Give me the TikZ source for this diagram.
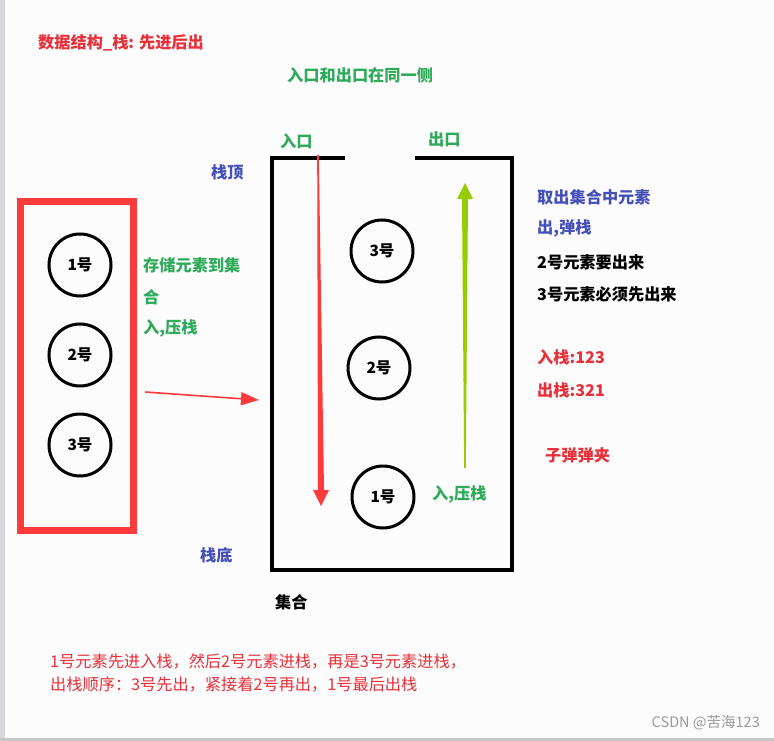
\documentclass[tikz,border=0pt]{standalone}
\usepackage{fontspec}
\setmainfont{Noto Sans CJK SC}
\usetikzlibrary{arrows.meta,calc}
\definecolor{tred}{HTML}{E8303A}
\definecolor{boxred}{HTML}{FF3A3A}
\definecolor{tgreen}{HTML}{2EAA5A}
\definecolor{tblue}{HTML}{4450B8}
\definecolor{agreen}{HTML}{99CC00}
\definecolor{wm}{HTML}{9A9A9A}
\tikzset{
  lbl/.style={anchor=west, inner sep=0pt, font=\fontsize{16.2}{17}\selectfont\bfseries},
  note/.style={anchor=west, inner sep=0pt, font=\fontsize{16.2}{17}\selectfont},
  ball/.style={circle, draw=black, line width=3pt, minimum size=62pt, inner sep=0pt, font=\fontsize{15.5}{15.5}\selectfont\bfseries},
  wall/.style={line width=4pt, black},
}
\begin{document}
\begin{tikzpicture}[x=1pt,y=-1pt]
\useasboundingbox (0,0) rectangle (774,741);
\fill[white!98!gray] (0,0) rectangle (774,741);
\fill[blue!8!gray!30] (0,0) rectangle (5,741);
\fill[gray!45] (0,738) rectangle (774,741);

% title
\node[lbl, text=tred] (title) at (38,43) {数据结构\_栈: 先进后出};
\node[lbl, text=tgreen] (same) at (287,75) {入口和出口在同一侧};

% left red box with elements
\draw[boxred, line width=7pt] (20.5,201) rectangle (133.5,530);
\node[ball] (l1) at (80,265) {1号};
\node[ball] (l2) at (80,355) {2号};
\node[ball] (l3) at (80,445) {3号};

\node[lbl, text=tgreen] (store1) at (143,265) {存储元素到集};
\node[lbl, text=tgreen] (store2) at (143,297) {合};
\node[lbl, text=tgreen] (store3) at (143,328) {入,压栈};

% horizontal arrow
\coordinate (ha) at (145,392);
\coordinate (hb) at (259,400);
\draw[boxred, line width=1.6pt, -{Triangle[length=18pt,width=13pt]}] (ha) -- (hb);

% stack container
\draw[wall, line cap=rect] (343,158) -- (272,158) -- (272,570) -- (512,570) -- (512,158) -- (417,158);

\node[lbl, text=tgreen] (in) at (280,141) {入口};
\node[lbl, text=tgreen] (out) at (428,139) {出口};
\node[lbl, text=tblue] (top) at (211,172) {栈顶};
\node[lbl, text=tblue] (bottom) at (200,555) {栈底};
\node[lbl, text=black] (coll) at (275,602) {集合};

\node[ball] (s3) at (382,251) {3号};
\node[ball] (s2) at (379,368) {2号};
\node[ball] (s1) at (383,497) {1号};

\node[lbl, text=tgreen] (push) at (432,494) {入,压栈};

% red down arrow (tapered)
\coordinate (rt) at (318,155);
\coordinate (rtip) at (321,506);
\fill[boxred] ($(rt)+(-0.8,0)$) -- ($(rt)+(0.8,0)$) -- (324,490) -- (329,490) -- (rtip) -- (313,490) -- (318,490) -- cycle;

% green up arrow (tapered)
\coordinate (gb) at (465,468);
\coordinate (gtip) at (465,183);
\fill[agreen] ($(gb)+(-0.8,0)$) -- ($(gb)+(0.8,0)$) -- (468,199) -- (473,199) -- (gtip) -- (457,199) -- (462,199) -- cycle;

% right notes
\node[lbl, text=tblue] (r1) at (537,197) {取出集合中元素};
\node[lbl, text=tblue] (r2) at (537,228) {出,弹栈};
\node[lbl, text=black] (r3) at (537,262) {2号元素要出来};
\node[lbl, text=black] (r4) at (537,294) {3号元素必须先出来};
\node[lbl, text=tred] (r5) at (537,357) {入栈:123};
\node[lbl, text=tred] (r6) at (537,390) {出栈:321};
\node[lbl, text=tred] (r7) at (545,455) {子弹弹夹};

% bottom notes
\node[note, text=tred] (b1) at (50,661) {1号元素先进入栈，然后2号元素进栈，再是3号元素进栈，};
\node[note, text=tred] (b2) at (50,685) {出栈顺序：3号先出，紧接着2号再出，1号最后出栈};

\node[anchor=east, inner sep=0pt, text=wm, font=\fontsize{14.5}{14.5}\selectfont] (wmk) at (760,723) {CSDN @苦海123};
\end{tikzpicture}
\end{document}
